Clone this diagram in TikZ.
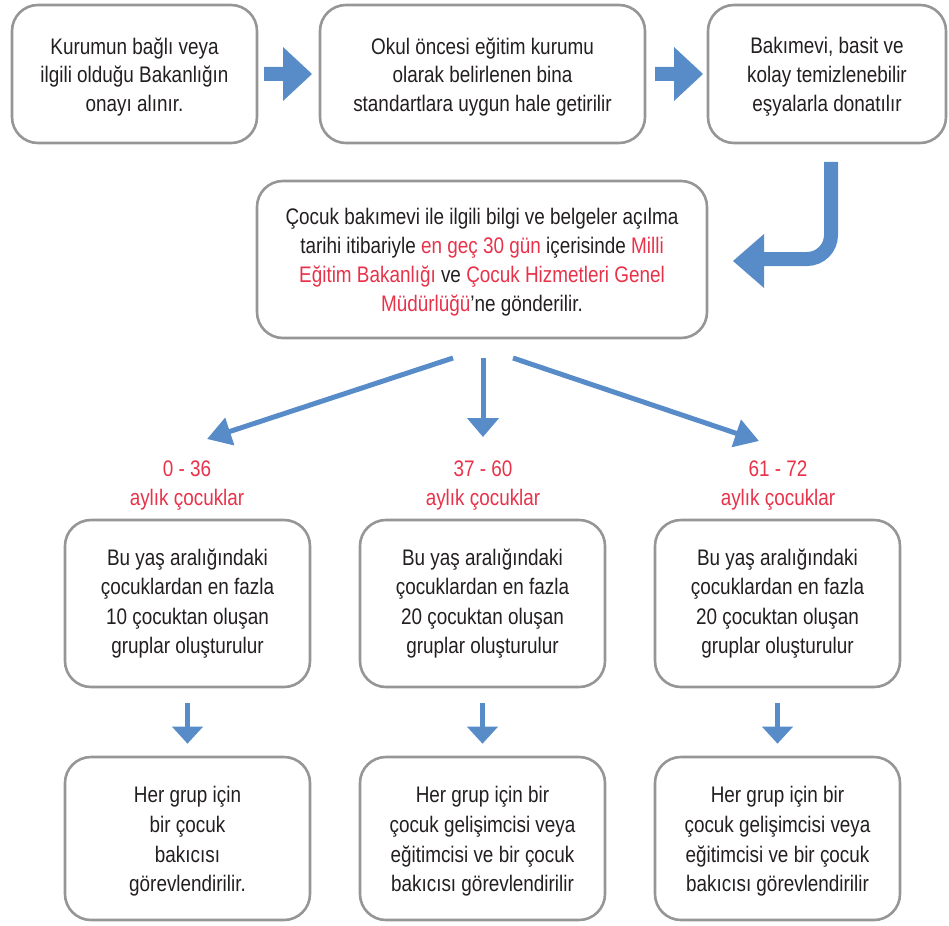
\documentclass[tikz,border=0pt]{standalone}
\usepackage{fontspec}
\setmainfont{Liberation Sans}[FakeStretch=0.84]
\usetikzlibrary{arrows.meta}
\definecolor{arrowblue}{RGB}{88,140,201}
\definecolor{hired}{RGB}{232,50,74}
\definecolor{boxgray}{RGB}{150,150,150}
\definecolor{txt}{RGB}{35,31,32}
\newcommand{\hl}[1]{\textcolor{hired}{#1}}
\begin{document}
\begin{tikzpicture}[x=1pt,y=-1pt,
  box/.style={draw=boxgray, line width=2.6pt, rounded corners=26pt, inner sep=0pt},
  boxtext/.style={align=center, text=txt, inner sep=0pt, font=\fontsize{22.5}{28.8}\selectfont},
  boxtextb/.style={boxtext, font=\fontsize{22.5}{29.6}\selectfont},
  toprow/.style={box, minimum height=138pt},
  midrow/.style={box, minimum width=245pt, minimum height=167pt},
  botrow/.style={box, minimum width=245pt, minimum height=163pt},
  agelabel/.style={text=hired, align=center, font=\fontsize{22.5}{29.5}\selectfont, inner sep=0pt},
  fanarrow/.style={draw=arrowblue, line width=5pt, -{Triangle[length=24pt,width=28pt]}},
  downarrow/.style={draw=arrowblue, line width=4.5pt, -{Triangle[length=17pt,width=30pt]}}
]
\useasboundingbox (0,0) rectangle (949,925);

% top row
\node[toprow, minimum width=245pt] (b1) at (134.5,74) {};
\node[toprow, minimum width=325pt] (b2) at (482.5,74) {};
\node[toprow, minimum width=238pt] (b3) at (827,74) {};
\node[boxtext] (b1t) at ([yshift=-3pt]b1.center) {Kurumun bağlı veya\\ilgili olduğu Bakanlığın\\onayı alınır.};
\node[boxtext] (b2t) at ([yshift=-3pt]b2.center) {Okul öncesi eğitim kurumu\\olarak belirlenen bina\\standartlara uygun hale getirilir};
\node[boxtext] (b3t) at ([yshift=-3pt]b3.center) {Bakımevi, basit ve\\kolay temizlenebilir\\eşyalarla donatılır};

% middle box
\node[box, minimum width=450pt, minimum height=157pt] (mid) at (482,259.5) {};
\node[boxtext] (midt) at ([yshift=-2.5pt]mid.center)
  {Çocuk bakımevi ile ilgili bilgi ve belgeler açılma\\
   tarihi itibariyle \hl{en geç 30 gün} içerisinde \hl{Milli}\\
   \hl{Eğitim Bakanlığı} ve \hl{Çocuk Hizmetleri Genel}\\
   \hl{Müdürlüğü}’ne gönderilir.};

% big arrows top row
\fill[arrowblue] (264,67) -- (283,67) -- (283,47) -- (312,74) -- (283,101) -- (283,81) -- (264,81) -- cycle;
\fill[arrowblue] (655,67) -- (674,67) -- (674,47) -- (703,74) -- (674,101) -- (674,81) -- (655,81) -- cycle;

% curved arrow
\draw[arrowblue, line width=14pt, rounded corners=24pt] (831,162) -- (831,259) -- (762,259);
\fill[arrowblue] (764,234) -- (733,261) -- (764,288) -- cycle;

% fan arrows
\coordinate (fl) at (453,358);
\coordinate (fm) at (483,358);
\coordinate (fr) at (513,358);
\coordinate (tl) at (207,439);
\coordinate (tm) at (483,437);
\coordinate (tr) at (759,441);
\draw[fanarrow] (fl) -- (tl);
\draw[fanarrow, -{Triangle[length=19pt,width=31pt]}] (fm) -- (tm);
\draw[fanarrow] (fr) -- (tr);

% age labels
\node[agelabel] (a1) at (187,485.5) {0 - 36\\aylık çocuklar};
\node[agelabel] (a2) at (483,485.5) {37 - 60\\aylık çocuklar};
\node[agelabel] (a3) at (778,485.5) {61 - 72\\aylık çocuklar};

% second row
\node[midrow] (g1) at (187.5,603.5) {};
\node[midrow] (g2) at (482.5,603.5) {};
\node[midrow] (g3) at (777.5,603.5) {};
\node[boxtextb] (g1t) at (g1.center) {Bu yaş aralığındaki\\çocuklardan en fazla\\10 çocuktan oluşan\\gruplar oluşturulur};
\node[boxtextb] (g2t) at (g2.center) {Bu yaş aralığındaki\\çocuklardan en fazla\\20 çocuktan oluşan\\gruplar oluşturulur};
\node[boxtextb] (g3t) at (g3.center) {Bu yaş aralığındaki\\çocuklardan en fazla\\20 çocuktan oluşan\\gruplar oluşturulur};

% bottom row
\node[botrow] (h1) at (187.5,838.5) {};
\node[botrow] (h2) at (482.5,838.5) {};
\node[botrow] (h3) at (777.5,838.5) {};
\node[boxtextb] (h1t) at ([yshift=-3pt]h1.center) {Her grup için\\bir çocuk\\bakıcısı\\görevlendirilir.};
\node[boxtextb] (h2t) at ([yshift=-3pt]h2.center) {Her grup için bir\\çocuk gelişimcisi veya\\eğitimcisi ve bir çocuk\\bakıcısı görevlendirilir};
\node[boxtextb] (h3t) at ([yshift=-3pt]h3.center) {Her grup için bir\\çocuk gelişimcisi veya\\eğitimcisi ve bir çocuk\\bakıcısı görevlendirilir};

% small down arrows
\draw[downarrow] ([yshift=-15pt]g1.south) -- ([yshift=12pt]h1.north);
\draw[downarrow] ([yshift=-15pt]g2.south) -- ([yshift=12pt]h2.north);
\draw[downarrow] ([yshift=-15pt]g3.south) -- ([yshift=12pt]h3.north);
\end{tikzpicture}
\end{document}
